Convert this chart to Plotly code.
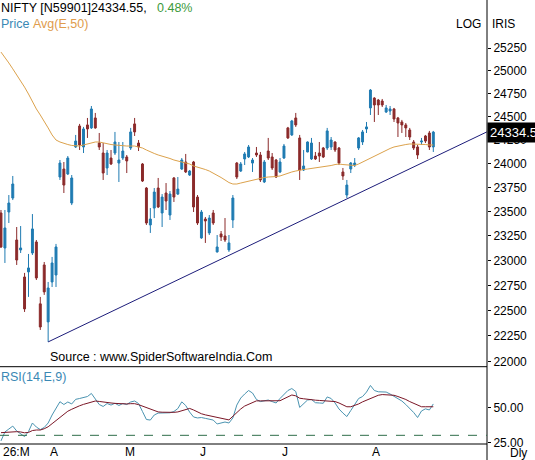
import math
import plotly.graph_objects as go

# ---------------- data ----------------
idx = list(range(111))

opens = [23485, 23127, 23495, 23640, 23208, 23107, 22834, 22885, 23076, 23188,
         22566, 22955, 22388, 22784, 22854, 23859, 23943, 23891, 23588, 24176,
         24400, 24176, 24411, 24379, 24486, 24218, 24112, 23954, 24059, 24112,
         24006, 24059, 24070, 24165, 24422, 24218, 23996, 23744, 23362, 23536,
         23744, 23485, 23692, 23464, 23849, 23681, 23943, 24017, 23880, 24017,
         23650, 23229, 23423, 23280, 23485, 23087, 23270, 23249, 23107, 23413,
         24006, 23922, 24049, 24070, 24006, 24112, 24091, 23807, 24133, 24070,
         24038, 23912, 24059, 24379, 24304, 24486, 24272, 23933, 24123, 24049,
         24080, 24112, 24165, 24165, 24176, 24229, 24165, 23912, 23671, 23943,
         23985, 24165, 24229, 24368, 24594, 24701, 24680, 24669, 24550, 24561,
         24583, 24486, 24443, 24411, 24357, 24229, 24176, 24229, 24293, 24325,
         24176]
highs = [23516, 23516, 23671, 23870, 23341, 23351, 22875, 23066, 23474, 23208,
         22635, 22985, 22784, 23036, 23168, 24038, 24017, 24080, 23880, 24304,
         24422, 24390, 24486, 24615, 24540, 24325, 24218, 24144, 24144, 24336,
         24229, 24229, 24091, 24379, 24486, 24250, 24006, 23754, 23536, 23744,
         23849, 23681, 23796, 23713, 23859, 23859, 24059, 24102, 23933, 24028,
         23671, 23516, 23444, 23464, 23516, 23259, 23300, 23433, 23259, 23671,
         24017, 24017, 24123, 24197, 24059, 24176, 24123, 24038, 24272, 24112,
         24049, 24059, 24208, 24390, 24465, 24540, 24304, 24144, 24235, 24272,
         24123, 24229, 24176, 24379, 24282, 24235, 24176, 23954, 23828, 24017,
         24059, 24282, 24357, 24443, 24799, 24710, 24691, 24691, 24626, 24615,
         24594, 24497, 24465, 24432, 24379, 24250, 24197, 24272, 24304, 24347,
         24347]
lows = [23127, 22975, 23382, 23619, 22955, 23076, 22486, 22635, 23056, 22804,
        22309, 22655, 22192, 22734, 22734, 23828, 23692, 23880, 23567, 24165,
        24144, 24112, 24272, 24368, 24370, 24144, 23828, 23880, 23985, 24091,
        23807, 24038, 23901, 24144, 24293, 24133, 23807, 23362, 23280, 23433,
        23536, 23341, 23516, 23413, 23599, 23671, 23933, 23901, 23870, 23495,
        23362, 23220, 23178, 23259, 23362, 23080, 23198, 23188, 23087, 23331,
        23838, 23912, 23985, 24059, 23912, 24070, 23807, 23796, 24038, 23933,
        23849, 23901, 24050, 24261, 24293, 24390, 23828, 23922, 24120, 24038,
        24038, 24017, 24059, 24144, 24144, 24123, 23985, 23828, 23640, 23901,
        23964, 24144, 24197, 24325, 24518, 24443, 24518, 24604, 24540, 24518,
        24443, 24282, 24325, 24282, 24250, 24144, 24049, 24197, 24218, 24144,
        24123]
closes = [23137, 23331, 23588, 23786, 23005, 23127, 22516, 22925, 23321, 22824,
          22338, 22685, 22724, 22975, 23137, 24006, 23775, 24059, 23849, 24239,
          24197, 24368, 24368, 24583, 24379, 24176, 23901, 24112, 23996, 24229,
          24038, 24133, 24028, 24336, 24336, 24176, 23817, 23382, 23423, 23702,
          23547, 23650, 23609, 23681, 23650, 23733, 24038, 23912, 23922, 23547,
          23382, 23495, 23403, 23433, 23382, 23137, 23239, 23208, 23178, 23640,
          23859, 23996, 24102, 24176, 24038, 24091, 23828, 24017, 24059, 23954,
          23859, 24017, 24186, 24272, 24454, 24411, 23933, 23975, 24229, 24218,
          24049, 24080, 24070, 24347, 24250, 24144, 24006, 23870, 23775, 24006,
          24006, 24272, 24336, 24390, 24788, 24626, 24626, 24626, 24594, 24583,
          24475, 24432, 24411, 24379, 24282, 24165, 24091, 24239, 24239, 24176,
          24334.55]
ema50 = [25205, 25150, 25085, 25020, 24955, 24890, 24820, 24745, 24660, 24583,
         24518, 24454, 24379, 24304, 24250, 24229, 24213, 24202, 24192, 24186,
         24186, 24197, 24208, 24218, 24229, 24229, 24218, 24208, 24202, 24197,
         24192, 24186, 24186, 24186, 24186, 24176, 24165, 24144, 24123, 24107,
         24091, 24080, 24070, 24054, 24038, 24028, 24017, 24006, 23996, 23975,
         23964, 23954, 23938, 23922, 23901, 23875, 23854, 23828, 23801, 23786,
         23786, 23796, 23807, 23817, 23828, 23838, 23849, 23854, 23859, 23859,
         23864, 23870, 23885, 23901, 23912, 23922, 23933, 23938, 23943, 23949,
         23954, 23959, 23964, 23970, 23980, 23990, 23996, 23990, 23985, 23980,
         23980, 23996, 24017, 24038, 24059, 24080, 24102, 24123, 24144, 24160,
         24176, 24186, 24197, 24202, 24208, 24208, 24208, 24208, 24202, 24197,
         24197]
rsi = [26, 32.4, 34.5, 36.6, 33.1, 30.9, 29.1, 32.7, 38.8, 35.9,
       34.1, 35.6, 38.8, 44.5, 49.5, 54, 52, 53.8, 52.4, 55.7,
       56.3, 57, 57.7, 59.9, 56.3, 52, 50.6, 52.7, 51.6, 52.9,
       51.3, 52.7, 52, 53.8, 54.5, 52.7, 47, 41.3, 40.9, 44.5,
       45.9, 46.1, 46.1, 46.1, 47, 49.1, 53.9, 51.3, 46.6, 43.1,
       42.4, 42.7, 42.1, 41.6, 40.9, 38.1, 38.8, 39.5, 38.8, 42.4,
       51.6, 56.6, 59.5, 62, 60.2, 55.6, 54.1, 54.9, 55.2, 54.1,
       53.1, 56.3, 59.1, 62, 63.4, 61.3, 49.9, 52.7, 55.2, 55.6,
       53.3, 53.1, 52.9, 57.4, 56.3, 53.1, 48.8, 45.9, 43.4, 47.7,
       52, 56.3, 57.7, 60.9, 65.6, 62, 61.1, 61.1, 60.9, 59.5,
       57.7, 56.3, 54.5, 52, 49.5, 46.3, 42.7, 47.4, 48.9, 48.1,
       52.4]
rsi_signal = [31.9, 32.2, 32.5, 32.6, 32.6, 32.4, 31.8, 32.1, 33.4, 33.8,
              33.8, 34.7, 36.1, 38.3, 40.6, 42.9, 45.2, 47.2, 48.6, 50.1,
              51.1, 52.1, 53, 53.8, 54.5, 54.2, 54, 53.6, 53.1, 52.8,
              52.6, 52.5, 52.4, 52.6, 52.6, 51.9, 50.9, 49.4, 48.4, 47.4,
              46.7, 46.5, 46.3, 46.1, 46.4, 46.7, 47.4, 48.4, 49.2, 48.1,
              46.6, 45.4, 44.6, 43.9, 43.3, 42.8, 42.3, 41.6, 41, 43.6,
              46.9, 48.8, 50.9, 52.2, 53.5, 54.6, 54.6, 54.6, 54.9, 55.1,
              54.9, 54.7, 56.1, 57.4, 58.8, 58.2, 56.5, 56.1, 55.6, 55.4,
              55.1, 54.9, 54.7, 54.5, 54.3, 54.1, 53.1, 51.8, 50.4, 50.4,
              51.3, 52.4, 53.9, 55.2, 56.5, 57.8, 58.6, 59.1, 59.1, 58.9,
              58.6, 57.7, 56.8, 55.6, 54.1, 52.7, 51.3, 50.4, 50.4, 50.4,
              50.4]
trend_x = [12, 123.6]
trend_y = [22192, 24336]
rsi_level = 30
price_ticks = [22000, 22250, 22500, 22750, 23000, 23250, 23500, 23750,
               24000, 24250, 24500, 24750, 25000, 25250]
rsi_ticks = [25, 50]
month_pos = [0, 12, 31, 50, 71, 94]
month_labels = ["26:M", "A", "M", "J", "J", "A"]
last_price = 24334.55
change_pct = 0.48

# ---------------- styles ----------------
BLUE = "#1f7bb2"
RED = "#8b2a2a"
ORANGE = "#dca24c"
NAVY = "#1c1c7a"
RSI_C = "#4a93b0"
SIG_C = "#7a1626"
FONT = "Liberation Sans"

PLOT_H = 444.0
PLOT_W = 487.0
SPLIT = (PLOT_H - 366.7) / PLOT_H


def py(p):
    return (PLOT_H - p) / PLOT_H


def px(p):
    return p / PLOT_W


fig = go.Figure()
fig.add_trace(go.Candlestick(
    x=idx, open=opens, high=highs, low=lows, close=closes,
    xaxis="x", yaxis="y", whiskerwidth=0,
    increasing=dict(line=dict(color=BLUE, width=1), fillcolor=BLUE),
    decreasing=dict(line=dict(color=RED, width=1), fillcolor=RED),
    showlegend=False, hoverinfo="skip"))
fig.add_trace(go.Scatter(x=idx, y=ema50, mode="lines", xaxis="x", yaxis="y",
                         line=dict(color=ORANGE, width=1), showlegend=False,
                         hoverinfo="skip"))
fig.add_trace(go.Scatter(x=trend_x, y=trend_y, mode="lines", xaxis="x", yaxis="y",
                         line=dict(color=NAVY, width=1), showlegend=False,
                         hoverinfo="skip"))
fig.add_trace(go.Scatter(x=idx, y=rsi, mode="lines", xaxis="x2", yaxis="y2",
                         line=dict(color=RSI_C, width=1), showlegend=False,
                         hoverinfo="skip"))
fig.add_trace(go.Scatter(x=idx, y=rsi_signal, mode="lines", xaxis="x2", yaxis="y2",
                         line=dict(color=SIG_C, width=1), showlegend=False,
                         hoverinfo="skip"))

xr = [-0.25, 123.66]
fig.update_layout(
    width=535, height=460,
    margin=dict(l=0, r=48, t=0, b=16),
    paper_bgcolor="white", plot_bgcolor="white",
    font=dict(family=FONT, size=12, color="black"),
    xaxis=dict(domain=[0, 1], range=xr, visible=False, anchor="y",
               rangeslider=dict(visible=False)),
    xaxis2=dict(domain=[0, 1], range=xr, visible=False, anchor="y2", matches="x"),
    yaxis=dict(type="log", domain=[SPLIT, 1], range=[4.34147, 4.41142],
               side="right", anchor="x", tickvals=price_ticks,
               ticktext=[str(v) for v in price_ticks], ticks="outside",
               ticklen=3, tickcolor="black", showgrid=False, zeroline=False,
               showline=False, tickfont=dict(family=FONT, size=12, color="black")),
    yaxis2=dict(domain=[0, SPLIT], range=[23.8, 79], side="right", anchor="x2",
                tickvals=rsi_ticks, ticktext=["%.2f" % v for v in rsi_ticks],
                ticks="outside", ticklen=3, tickcolor="black", showgrid=False,
                zeroline=False, showline=False,
                tickfont=dict(family=FONT, size=12, color="black")),
)

shapes = [
    dict(type="line", xref="paper", yref="paper", x0=1, x1=1, y0=-0.04, y1=1,
         line=dict(color="black", width=1)),
    dict(type="line", xref="paper", yref="paper", x0=0, x1=1, y0=SPLIT, y1=SPLIT,
         line=dict(color="black", width=1)),
    dict(type="line", xref="paper", yref="paper", x0=0, x1=1, y0=0, y1=0,
         line=dict(color="black", width=1)),
    dict(type="line", xref="paper", yref="y2", x0=0, x1=1, y0=rsi_level, y1=rsi_level,
         line=dict(color="#2f6e4a", width=1, dash="dash")),
]
fig.update_layout(shapes=shapes)

ann = []


def text(x, y, s, color="black", size=12, xanchor="left", **kw):
    ann.append(dict(x=x, y=y, xref="paper", yref="paper", text=s, showarrow=False,
                    xanchor=xanchor, yanchor="middle",
                    font=dict(family=FONT, size=size, color=color), **kw))


text(px(-1), py(8), "NIFTY [N59901]%.2f," % last_price, size=12.5)
text(px(155), py(8), "%.2f%%" % change_pct, color="#3c9a3c", size=12.5)
text(px(-1), py(24), "Price", color="#3a88b4", size=12.5)
text(px(31), py(24), "Avg(E,50)", color="#e09c4c", size=12.5)
text(px(483), py(24), "LOG", xanchor="right")
text(px(490), py(24), "IRIS")
text(px(48), py(357), "Source : www.SpiderSoftwareIndia.Com", size=12.5)
text(px(-1), py(377), "RSI(14,E,9)", color="#3a88b4", size=12.5)
text(px(508), py(453), "Dly")

for pos, lab in zip(month_pos, month_labels):
    ann.append(dict(x=pos, y=py(452), xref="x2", yref="paper", text=lab,
                    showarrow=False, xanchor="left", yanchor="middle",
                    font=dict(family=FONT, size=12, color="black")))

ann.append(dict(x=1, y=math.log10(last_price), xref="paper", yref="y",
                text="%.1f" % (math.floor(last_price * 10) / 10), showarrow=False,
                xanchor="left", yanchor="middle", bgcolor="black", borderpad=2,
                font=dict(family=FONT, size=13, color="white")))

fig.update_layout(annotations=ann)
fig.write_html("out.html",
               config={"displayModeBar": False, "staticPlot": True},
               post_script="document.body.style.margin='0';"
                           "document.body.style.padding='0';")
